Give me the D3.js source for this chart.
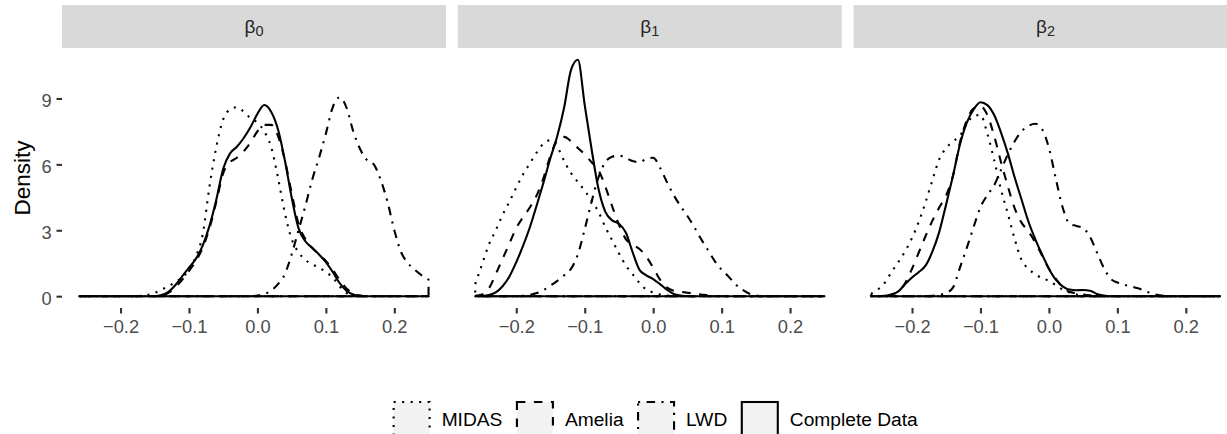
<!DOCTYPE html>
<html>
<head>
<meta charset="utf-8">
<script src="https://cdn.jsdelivr.net/npm/d3@7"></script>
<style>
body { margin: 0; background: #fff; }
text { font-family: "Liberation Sans", Arial, Helvetica, sans-serif; }
</style>
</head>
<body>
<div id="chart"></div>
<script>
// grid of coefficient values the densities are read at
var xGrid = [-0.26,-0.25,-0.24,-0.23,-0.22,-0.21,-0.20,-0.19,-0.18,-0.17,-0.16,-0.15,-0.14,-0.13,-0.12,-0.11,-0.10,-0.09,-0.08,-0.07,-0.06,-0.05,-0.04,-0.03,-0.02,-0.01,
             0.00,0.01,0.02,0.03,0.04,0.05,0.06,0.07,0.08,0.09,0.10,0.11,0.12,0.13,0.14,0.15,0.16,0.17,0.18,0.19,0.20,0.21,0.22,0.23,0.24,0.25];

var methods = ["MIDAS", "Amelia", "LWD", "Complete Data"];
var panelSubs = ["0", "1", "2"];
var xTicks = [-0.2, -0.1, 0.0, 0.1, 0.2];
var yTicks = [0, 3, 6, 9];

// beta 0
var midasB0    = [0,0,0,0,0,0,0,0,0,0.02,0.06,0.15,0.3,0.45,0.65,0.85,1.2,1.8,2.8,5.0,6.8,8.05,8.5,8.6,8.4,8.1,7.9,7.5,6.8,5.4,3.8,2.6,2.0,1.65,1.45,1.3,1.1,0.85,0.45,0.15,0.04,0,0,0,0,0,0,0,0,0,0,0];
var ameliaB0   = [0,0,0,0,0,0,0,0,0,0,0,0,0.03,0.15,0.4,0.75,1.15,1.6,2.2,3.1,4.3,5.6,6.1,6.3,6.6,7.0,7.5,7.8,7.8,7.3,6.2,4.7,3.3,2.6,2.2,1.9,1.6,1.2,0.75,0.35,0.12,0.03,0,0,0,0,0,0,0,0,0,0];
var lwdB0      = [0,0,0,0,0,0,0,0,0,0,0,0,0,0,0,0,0,0,0,0,0,0,0,0,0,0,0.03,0.1,0.25,0.55,1.0,1.9,3.0,4.1,5.3,6.3,7.4,8.6,9.05,8.6,7.5,6.7,6.2,6.0,5.3,4.3,3.0,2.0,1.5,1.2,0.95,0.75];
var completeB0 = [0,0,0,0,0,0,0,0,0,0,0,0,0.05,0.2,0.5,0.9,1.3,1.7,2.3,3.2,4.4,5.8,6.5,6.8,7.2,7.7,8.3,8.7,8.4,7.6,6.2,4.5,3.1,2.5,2.2,1.9,1.55,1.1,0.6,0.25,0.08,0.02,0,0,0,0,0,0,0,0,0,0];

// beta 1
var midasB1    = [0.55,1.45,2.35,3.0,3.7,4.3,4.95,5.55,6.05,6.55,6.95,7.1,6.8,6.15,5.6,5.2,4.8,4.35,3.85,3.15,2.55,1.95,1.4,1.0,0.6,0.3,0.17,0.08,0.03,0,0,0,0,0,0,0,0,0,0,0,0,0,0,0,0,0,0,0,0,0,0,0];
var ameliaB1   = [0.02,0.08,0.35,1.0,1.7,2.4,3.1,3.6,4.05,4.6,5.4,6.4,7.1,7.25,7.05,6.75,6.45,6.1,5.75,5.0,4.1,3.25,2.6,2.35,2.15,1.8,1.3,0.75,0.4,0.25,0.2,0.16,0.12,0.08,0.04,0.01,0,0,0,0,0,0,0,0,0,0,0,0,0,0,0,0];
var lwdB1      = [0,0,0,0,0,0,0,0.02,0.06,0.14,0.28,0.48,0.7,0.95,1.25,1.9,3.05,4.3,5.4,6.1,6.35,6.4,6.3,6.15,6.1,6.25,6.3,5.85,5.2,4.6,4.1,3.65,3.15,2.6,2.1,1.6,1.2,0.9,0.55,0.3,0.12,0.04,0,0,0,0,0,0,0,0,0,0];
var completeB1 = [0,0.01,0.05,0.17,0.45,0.9,1.55,2.3,3.15,4.15,5.2,6.3,7.3,8.6,10.3,10.76,8.7,6.7,4.9,3.85,3.45,3.3,2.9,2.0,1.2,0.95,0.78,0.55,0.3,0.1,0.03,0,0,0,0,0,0,0,0,0,0,0,0,0,0,0,0,0,0,0,0,0];

// beta 2
var midasB2    = [0.1,0.3,0.6,1.1,1.55,2.05,2.65,3.4,4.3,5.3,6.25,6.75,7.05,7.3,7.85,8.2,8.25,7.4,6.2,4.85,3.75,2.6,1.65,1.25,1.0,0.82,0.7,0.5,0.3,0.17,0.08,0.03,0,0,0,0,0,0,0,0,0,0,0,0,0,0,0,0,0,0,0,0];
var ameliaB2   = [0,0,0.02,0.08,0.2,0.6,1.25,2.0,2.75,3.45,4.05,4.6,5.5,7.0,8.0,8.55,8.65,8.25,7.3,6.1,5.0,4.0,3.35,2.95,2.45,1.85,1.25,0.8,0.4,0.2,0.13,0.08,0.04,0.01,0,0,0,0,0,0,0,0,0,0,0,0,0,0,0,0,0,0];
var lwdB2      = [0,0,0,0,0,0,0,0,0,0.02,0.06,0.15,0.4,1.3,2.2,3.15,4.05,4.6,5.05,5.75,6.45,7.05,7.5,7.75,7.85,7.6,6.75,5.36,4.05,3.3,3.2,3.1,2.7,2.0,1.3,0.8,0.62,0.52,0.45,0.36,0.25,0.12,0.05,0.01,0,0,0,0,0,0,0,0];
var completeB2 = [0,0,0.02,0.08,0.22,0.55,0.85,1.1,1.4,2.05,2.95,4.2,5.5,6.9,7.9,8.5,8.83,8.7,8.25,7.45,6.5,5.4,4.4,3.4,2.6,1.9,1.25,0.75,0.45,0.3,0.27,0.28,0.25,0.1,0.03,0,0,0,0,0,0,0,0,0,0,0,0,0,0,0,0,0];

var panels = [
	{ sub: panelSubs[0], series: [midasB0, ameliaB0, lwdB0, completeB0] },
	{ sub: panelSubs[1], series: [midasB1, ameliaB1, lwdB1, completeB1] },
	{ sub: panelSubs[2], series: [midasB2, ameliaB2, lwdB2, completeB2] }
];

var dashes = ["2.1,6.4", "8.5,8.5", "2.1,6.4,8.5,6.4", null];

(function() {
	var width = 1227;
	var height = 434;
	var left0 = 62;
	var panelW = 384;
	var panelGap = 11.75;
	var stripTop = 5;
	var panelTop = 48;
	var panelBottom = 308;
	var lw = 2.1;

	function expand(d) {
		var r = d[1] - d[0];
		return [d[0] - r * 0.05, d[1] + r * 0.05];
	}

	var svg = d3.select("#chart")
				.append("svg")
				.attr("width", width)
				.attr("height", height)
				.style("display", "block");

	var xScale = d3.scaleLinear()
				   .domain(expand(d3.extent(xGrid)))
				   .range([0, panelW]);

	var yMax = d3.max(panels, function(p) {
		return d3.max(p.series, function(s) { return d3.max(s); });
	});

	var yScale = d3.scaleLinear()
				   .domain(expand([0, yMax]))
				   .range([panelBottom, panelTop]);

	var area = d3.area()
				 .x(function(d, i) { return xScale(xGrid[i]); })
				 .y0(yScale(0))
				 .y1(function(d) { return yScale(d); })
				 .curve(d3.curveMonotoneX);

	function styleAxis(g) {
		g.select(".domain").remove();
		g.selectAll(".tick line").attr("stroke", "#333333").attr("stroke-width", lw);
		g.selectAll(".tick text")
		 .attr("fill", "#4d4d4d")
		 .style("font-size", "18.3px");
	}

	panels.forEach(function(p, k) {
		var g = svg.append("g")
				   .attr("transform", "translate(" + (left0 + k * (panelW + panelGap)) + ",0)");

		// strip
		g.append("rect")
		 .attr("x", 0)
		 .attr("y", stripTop)
		 .attr("width", panelW)
		 .attr("height", panelTop - stripTop)
		 .attr("fill", "#d9d9d9");

		var label = g.append("text")
					 .attr("x", panelW / 2)
					 .attr("y", 33)
					 .attr("text-anchor", "middle")
					 .attr("fill", "#262626")
					 .style("font-size", "19px");
		label.append("tspan").text("\u03B2");
		label.append("tspan").attr("dy", 2.7).style("font-size", "14.5px").text(p.sub);

		// densities
		g.selectAll("path.dens")
		 .data(p.series)
		 .enter()
		 .append("path")
		 .attr("class", "dens")
		 .attr("d", area)
		 .attr("fill", "none")
		 .attr("stroke", "#000")
		 .attr("stroke-width", lw)
		 .attr("stroke-linejoin", "round")
		 .attr("stroke-dasharray", function(d, i) { return dashes[i]; });

		var xAxis = d3.axisBottom(xScale)
					  .tickValues(xTicks)
					  .tickSize(5.5)
					  .tickPadding(7)
					  .tickFormat(d3.format(".1f"));

		g.append("g")
		 .attr("transform", "translate(0," + panelBottom + ")")
		 .call(xAxis)
		 .call(styleAxis);

		if (k === 0) {
			var yAxis = d3.axisLeft(yScale)
						  .tickValues(yTicks)
						  .tickSize(5.5)
						  .tickPadding(4.8)
						  .tickFormat(d3.format("d"));
			g.append("g")
			 .call(yAxis)
			 .call(styleAxis)
			 .selectAll(".tick text")
			 .attr("dy", "0.45em");
		}
	});

	// y title
	svg.append("text")
	   .attr("transform", "translate(29.5," + ((panelTop + panelBottom) / 2) + ")rotate(-90)")
	   .attr("text-anchor", "middle")
	   .attr("fill", "#000")
	   .style("font-size", "22.5px")
	   .text("Density");

	// legend
	var keySize = 36;
	var keyGap = 12;
	var itemGap = 14.5;
	var legend = svg.append("g");
	var cx = 0;
	methods.forEach(function(m, i) {
		var item = legend.append("g").attr("transform", "translate(" + cx + ",0)");
		item.append("rect")
			.attr("x", 0)
			.attr("y", 0)
			.attr("width", keySize)
			.attr("height", keySize)
			.attr("fill", "#f2f2f2")
			.attr("stroke", "#000")
			.attr("stroke-width", lw)
			.attr("stroke-dasharray", dashes[i]);
		var t = item.append("text")
					.attr("x", keySize + keyGap)
					.attr("y", 23.7)
					.attr("fill", "#000")
					.style("font-size", "19.2px")
					.text(m);
		cx += keySize + keyGap + t.node().getComputedTextLength() + itemGap;
	});
	var legendW = cx - itemGap;
	legend.attr("transform", "translate(" + (655.7 - legendW / 2) + ",402)");
}());
</script>
</body>
</html>
